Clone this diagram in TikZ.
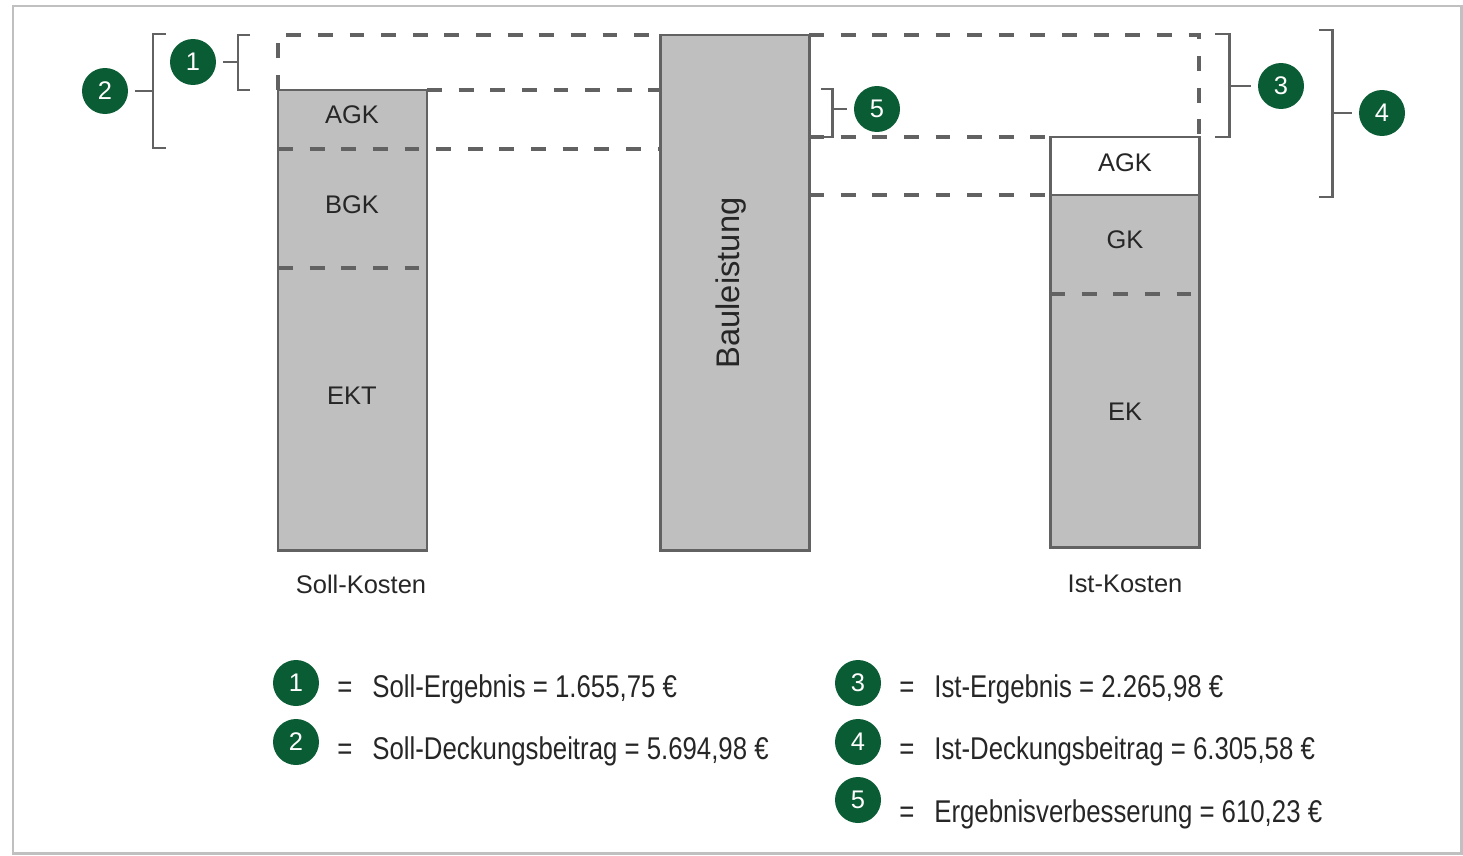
\documentclass[tikz,border=0pt]{standalone}
\usepackage{fontspec}
\setmainfont{Liberation Sans}
\newfontfamily\narrowfont[FakeStretch=0.82]{Liberation Sans}
\usetikzlibrary{positioning}

\definecolor{markgreen}{RGB}{10,92,52}
\definecolor{barfill}{RGB}{191,191,191}
\definecolor{barline}{RGB}{98,98,98}
\definecolor{framegray}{RGB}{192,192,192}

\begin{document}
\begin{tikzpicture}[x=0.02cm, y=-0.02cm,
    bar/.style={draw=barline, fill=barfill, line width=1.7pt},
    agkbox/.style={draw=barline, fill=white, line width=1.7pt},
    guide/.style={draw=barline, line width=1.8pt, dash pattern=on 8.5pt off 9.5pt},
    brace/.style={draw=barline, line width=1.7pt},
    badge/.style={circle, fill=markgreen, text=white, minimum size=0.92cm, inner sep=0pt, font=\fontsize{14.5}{14}\selectfont},
    txt/.style={font=\fontsize{14.5}{16}\selectfont, text=black!85},
    legend/.style={font=\narrowfont\fontsize{17.9}{20}\selectfont, text=black!85}
]
\useasboundingbox (0,0) rectangle (1463,855);

% Frame
\draw[framegray, line width=1.7pt] (13,6) rectangle (1461,853);

% Soll-Kosten
\draw[bar] (278,90) rectangle (427,550);
\draw[guide] (278,268) -- (430,268);
\node[txt] (sollagk) at (352,115) {AGK};
\node[txt] (sollbgk) at (352,205) {BGK};
\node[txt] (sollekt) at (352,396) {EKT};
\node[txt] (sollname) at (361,584) {Soll-Kosten};

% Bauleistung
\draw[bar] (660,35) rectangle (809,550);
\node[txt, font=\fontsize{18.6}{20}\selectfont, rotate=90] (bau) at (731,283) {Bauleistung};

% Ist-Kosten
\draw[bar] (1050,195) rectangle (1199,547);
\draw[agkbox] (1050,137) rectangle (1199,195);
\draw[guide] (1050,294) -- (1199,294);
\node[txt] (istagk) at (1125,163) {AGK};
\node[txt] (istgk) at (1125,240) {GK};
\node[txt] (istek) at (1125,412) {EK};
\node[txt] (istname) at (1125,584) {Ist-Kosten};

% Dashed guides
\draw[guide] (278,90) -- (278,35) -- (660,35);
\draw[guide] (809,35) -- (1199,35) -- (1199,137);
\draw[guide] (427,90) -- (660,90);
\draw[guide] (278,149) -- (660,149);
\draw[guide] (809,137) -- (1050,137);
\draw[guide] (809,195) -- (1050,195);

% Brackets
\draw[brace] (250,35) -| (238,90) -- (250,90);
\coordinate (b1) at (238,62);
\node[badge] (n1) at (193,62) {1};
\draw[brace, shorten <=4pt] (n1) -- (b1);

\draw[brace] (166,34) -| (153,148) -- (166,148);
\coordinate (b2) at (153,91);
\node[badge] (n2) at (105,91) {2};
\draw[brace, shorten <=4pt] (n2) -- (b2);

\draw[brace] (821,89) -| (832,137) -- (821,137);
\coordinate (b5) at (832,109);
\node[badge] (n5) at (877,109) {5};
\draw[brace, shorten <=4pt] (n5) -- (b5);

\draw[brace] (1215,34) -| (1229,137) -- (1215,137);
\coordinate (b3) at (1229,86);
\node[badge] (n3) at (1281,86) {3};
\draw[brace, shorten <=4pt] (n3) -- (b3);

\draw[brace] (1319,30) -| (1332,197) -- (1319,197);
\coordinate (b4) at (1332,113);
\node[badge] (n4) at (1382,113) {4};
\draw[brace, shorten <=4pt] (n4) -- (b4);

% Legend
\foreach \n/\x/\yc/\yb/\t in {
    1/296/683/697/{Soll-Ergebnis = 1.655,75 €},
    2/296/742/759/{Soll-Deckungsbeitrag = 5.694,98 €},
    3/858/683/697/{Ist-Ergebnis = 2.265,98 €},
    4/858/742/759/{Ist-Deckungsbeitrag = 6.305,58 €},
    5/858/800/822/{Ergebnisverbesserung = 610,23 €}} {
    \node[badge] (leg\n) at (\x,\yc) {\n};
    \node[legend, anchor=base] (eq\n) at (\x+49,\yb) {=};
    \node[legend, anchor=base west, inner sep=0pt] (legtxt\n) at (\x+76,\yb) {\t};
}

\end{tikzpicture}
\end{document}
